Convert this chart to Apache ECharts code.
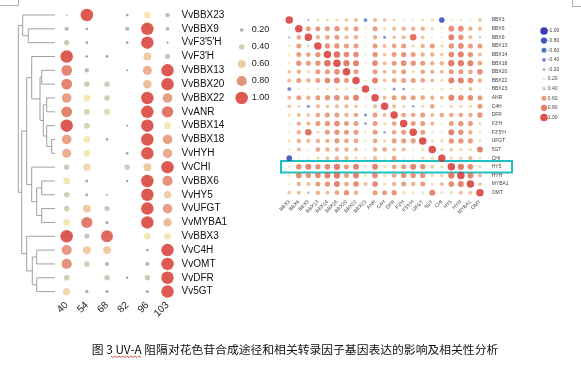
<!DOCTYPE html>
<html><head><meta charset="utf-8">
<script src="https://cdn.jsdelivr.net/npm/echarts@6/dist/echarts.min.js"></script>
<style>html,body{margin:0;padding:0;background:#fff}#c{width:581px;height:369px}</style>
</head><body><div id="c"></div>
<script>
// ---------- Left panel: expression dot plot ----------
const genes = ['VvBBX23','VvBBX9',"VvF3'5'H","VvF3'H",'VvBBX13','VvBBX20','VvBBX22','VvANR','VvBBX14','VvBBX18','VvHYH','VvCHI','VvBBX6','VvHY5','VvUFGT','VvMYBA1','VvBBX3','VvC4H','VvOMT','VvDFR','Vv5GT'];
const stages = ['40','54','68','82','96','103'];
const expr40  = [0.05,0.28,0.38,1.00,0.85,0.85,0.75,0.85,1.00,0.75,0.70,0.38,0.50,0.40,0.40,0.50,1.00,0.78,0.80,0.40,0.55];
const expr54  = [1.00,0.15,0.15,0.15,0.30,0.38,0.50,0.42,0.42,0.50,0.50,0.55,0.18,0.18,0.60,0.88,0.35,0.60,0.40,0,0.20];
const expr68  = [0,0,0,0.17,0,0.38,0.40,0.45,0,0.15,0,0,0,0.06,0.38,0.18,0.95,0.60,0.30,0.38,0.20];
const expr82  = [0.15,0.28,0.15,0,0.08,0,0,0,0.08,0,0.15,0.38,0.12,0,0,0,0,0,0,0.12,0];
const expr96  = [0.50,1.00,1.00,0.60,0.70,0.65,1.00,1.00,1.00,1.00,1.00,0.60,1.00,1.00,1.00,1.00,0.50,0.15,0.28,0.38,0.18];
const expr103 = [0.30,0.22,0.10,0.38,1.00,1.00,0.75,0.90,0.50,0.75,0.72,1.00,0.80,0.58,0.75,0.65,0.50,1.00,1.00,1.00,1.00];
const exprCols = [expr40, expr54, expr68, expr82, expr96, expr103];
const exprLegendValues = [0.2,0.4,0.6,0.8,1.0];
const exprLegendLabels = ['0.20','0.40','0.60','0.80','1.00'];

// dendrogram merges: [node id, child A, child B, merge height]
const dendroMerges = [
  ['n1','VvBBX9',"VvF3'5'H",2.67],
  ['n2','VvBBX23','n1',3.23],
  ['ca','VvBBX13','VvBBX20',1.33],
  ['cb','VvBBX22','VvANR',0.83],
  ['cc','VvBBX18','VvHYH',0.33],
  ['cd','VvBBX14','cc',0.83],
  ['ce','cb','cd',1.17],
  ['cf','ca','ce',1.50],
  ['cg',"VvF3'H",'cf',2.33],
  ['h3','VvBBX6','VvHY5',1.33],
  ['h4','VvUFGT','VvMYBA1',1.33],
  ['h2','h3','h4',1.83],
  ['h1','VvCHI','h2',2.33],
  ['mid','cg','h1',2.83],
  ['b3','VvC4H','VvOMT',1.83],
  ['b4','VvDFR','Vv5GT',1.83],
  ['b2','b3','b4',2.27],
  ['bot','VvBBX3','b2',2.83],
  ['m','mid','bot',3.33],
  ['root','n2','m',3.67]
];

// ---------- Right panel: correlation matrix ----------
const corrGenes = ['BBX3','BBX6','BBX9','BBX13','BBX14','BBX18','BBX20','BBX22','BBX23','ANR','C4H','DFR',"F3'H","F3'5'H",'UFGT','5GT','CHI','HY5','HYH','MYBA1','OMT'];
const corrMatrix = [
  [1.00,0.05,-0.15,0.25,0.30,0.30,0.40,0.45,-0.40,0.45,0.40,0.30,0.10,0.10,0.25,0.30,-0.70,0.10,0.20,0.10,0.40],
  [0.05,1.00,0.60,0.60,0.60,0.65,0.50,0.60,0.15,0.60,0.30,0.45,0.50,0.50,0.50,0.30,0.10,0.70,0.70,0.50,0.45],
  [-0.15,0.55,1.00,0.50,0.55,0.60,0.45,0.50,0.10,0.50,-0.30,0.40,0.45,0.85,0.40,0.10,0.10,0.75,0.65,0.45,-0.15],
  [0.20,0.60,0.30,1.00,0.65,0.65,0.60,0.60,0.10,0.60,0.45,0.55,0.60,0.30,0.50,0.60,0.30,0.65,0.70,0.60,0.60],
  [0.20,0.60,0.55,0.65,1.00,0.85,0.70,0.70,0.10,0.65,0.40,0.60,0.65,0.60,0.50,0.50,0.40,0.70,0.75,0.65,0.45],
  [0.20,0.65,0.60,0.65,0.85,1.00,0.80,0.75,0.10,0.70,0.45,0.60,0.70,0.65,0.60,0.50,0.50,0.80,0.80,0.75,0.55],
  [0.40,0.50,0.30,0.60,0.60,0.70,1.00,0.60,0.05,0.60,0.45,0.50,0.60,0.30,0.55,0.50,0.45,0.60,0.60,0.55,0.70],
  [0.45,0.60,0.50,0.60,0.70,0.75,0.60,1.00,0.20,0.75,0.40,0.55,0.60,0.60,0.55,0.45,0.30,0.75,0.75,0.70,0.50],
  [-0.40,0.10,0.10,0.20,0.25,0.30,0.20,0.20,1.00,0.10,0.15,-0.30,-0.25,0.20,0.20,0.10,0.25,0.25,0.25,0.45,0.05],
  [0.45,0.60,0.50,0.60,0.65,0.70,0.60,0.75,0.10,1.00,0.45,0.60,0.60,0.60,0.55,0.50,0.45,0.75,0.70,0.70,0.60],
  [0.40,0.30,-0.30,0.45,0.40,0.45,0.45,0.40,0.15,0.45,1.00,0.45,0.30,-0.20,0.30,0.55,0.15,0.30,0.30,0.30,0.60],
  [0.30,0.45,0.40,0.55,0.60,0.60,0.50,0.55,-0.30,0.60,0.45,1.00,0.55,0.55,0.60,0.45,0.55,0.55,0.55,0.50,0.65],
  [0.10,0.50,0.45,0.60,0.65,0.70,0.60,0.60,-0.25,0.60,0.30,0.55,1.00,0.60,0.60,0.45,0.10,0.60,0.65,0.60,0.30],
  [0.10,0.50,0.85,0.30,0.60,0.65,0.60,0.60,0.20,0.60,-0.20,0.55,0.60,1.00,0.60,0.20,0.10,0.75,0.65,0.50,0.20],
  [0.25,0.50,0.45,0.50,0.50,0.60,0.55,0.55,0.20,0.55,0.30,0.60,0.60,0.60,1.00,0.30,0.30,0.65,0.65,0.60,0.25],
  [0.15,0.45,0.10,0.55,0.50,0.50,0.50,0.45,0.10,0.50,0.55,0.45,0.45,0.20,0.30,1.00,0.30,0.40,0.30,0.30,0.75],
  [-0.70,0.10,0.10,0.30,0.40,0.50,0.45,0.30,0.25,0.45,0.15,0.55,0.10,0.10,0.30,0.30,1.00,0.30,0.35,0.45,0.25],
  [0.10,0.70,0.75,0.65,0.70,0.80,0.60,0.75,0.25,0.75,0.30,0.55,0.60,0.75,0.65,0.40,0.30,1.00,0.80,0.70,0.30],
  [0.20,0.70,0.65,0.70,0.75,0.80,0.60,0.75,0.25,0.70,0.30,0.55,0.65,0.65,0.65,0.30,0.35,0.80,1.00,0.75,0.45],
  [0.10,0.50,0.45,0.60,0.65,0.75,0.55,0.70,0.45,0.70,0.30,0.50,0.60,0.50,0.60,0.30,0.45,0.70,0.75,1.00,0.40],
  [0.40,0.45,-0.15,0.50,0.45,0.55,0.65,0.50,0.05,0.60,0.60,0.65,0.30,0.20,0.25,0.75,0.25,0.30,0.45,0.40,1.00]
];
const corrLegendValues = [-1,-0.8,-0.6,-0.4,-0.2,0.2,0.4,0.6,0.8,1];
const corrLegendLabels = ['-1.00','-0.80','-0.60','-0.40','-0.20','0.20','0.40','0.60','0.80','1.00'];
const captionText = '图 3 UV-A 阻隔对花色苷合成途径和相关转录因子基因表达的影响及相关性分析';

// ---------- build series data ----------
const leftColors = ['#4f74b5','#6d89bb','#8798b8','#a6aeae','#c2c5a4','#eee2a0','#ebbe8c','#e69c74','#df785b','#da5441','#d62f27'];
const rightColors = ['#0a0aa8','#1630b0','#2b4fb8','#4b6dc0','#7d91c4','#d9d9cf','#f2e5a2','#efb884','#e6845f','#dd5b41','#d42a25'];

const exprData = [];
exprCols.forEach((col, ci) => col.forEach((v, ri) => { if (v > 0) exprData.push([ci, ri, v]); }));
const exprLegendData = exprLegendValues.map((v, i) => [0.5, i, v]);
const corrData = [];
corrMatrix.forEach((row, ri) => row.forEach((v, ci) => corrData.push([ci, ri, v])));
const corrLegendData = corrLegendValues.map((v, i) => [0.5, i, v]);

// dendrogram layout: node y = mean of children, leaves at their row index
const nodePos = {};
genes.forEach((g, i) => { nodePos[g] = { y: i, h: 0 }; });
const dendroData = dendroMerges.map(([id, a, b, h]) => {
  const A = nodePos[a], B = nodePos[b];
  nodePos[id] = { y: (A.y + B.y) / 2, h: h };
  return [h, A.y, B.y, A.h, B.h];
});

const chart = echarts.init(document.getElementById('c'), null, { renderer: 'canvas' });
const FONT = 'Liberation Sans';
const hideAxis = { show: false };
chart.setOption({
  animation: false,
  backgroundColor: '#ffffff',
  textStyle: { fontFamily: FONT },
  grid: [
    { left: 0, top: 8.1, width: 55, height: 290.4 },
    { left: 56.6, top: 8.1, width: 121, height: 290.4 },
    { left: 236.3, top: 21.5, width: 10.8, height: 85 },
    { left: 284.5, top: 15.7, width: 200.2, height: 181.3 },
    { left: 541, top: 26.2, width: 6, height: 96 }
  ],
  xAxis: [
    { gridIndex: 0, type: 'value', min: 0, max: 5.5, inverse: true, show: false },
    { gridIndex: 1, type: 'category', data: stages, axisLine: hideAxis, axisTick: hideAxis, splitLine: hideAxis,
      axisLabel: { rotate: 45, fontSize: 10, color: '#222', margin: 5, interval: 0, fontFamily: FONT } },
    { gridIndex: 2, type: 'value', min: 0, max: 1, show: false },
    { gridIndex: 3, type: 'category', data: corrGenes, axisLine: hideAxis, axisTick: hideAxis, splitLine: hideAxis,
      axisLabel: { rotate: 45, fontSize: 5, color: '#444', margin: 4, interval: 0, fontFamily: FONT } },
    { gridIndex: 4, type: 'value', min: 0, max: 1, show: false }
  ],
  yAxis: [
    { gridIndex: 0, type: 'value', min: -0.5, max: 20.5, inverse: true, show: false },
    { gridIndex: 1, type: 'category', data: genes, inverse: true, position: 'right', axisLine: hideAxis, axisTick: hideAxis, splitLine: hideAxis,
      axisLabel: { fontSize: 10, color: '#111', margin: 4, interval: 0, fontFamily: FONT } },
    { gridIndex: 2, type: 'category', data: exprLegendLabels, inverse: true, position: 'right', axisLine: hideAxis, axisTick: hideAxis,
      axisLabel: { fontSize: 9, color: '#222', margin: 4.6, interval: 0, fontFamily: FONT } },
    { gridIndex: 3, type: 'category', data: corrGenes, inverse: true, position: 'right', axisLine: hideAxis, axisTick: hideAxis, splitLine: hideAxis,
      axisLabel: { fontSize: 5, color: '#444', margin: 7, interval: 0, fontFamily: FONT } },
    { gridIndex: 4, type: 'category', data: corrLegendLabels, inverse: true, position: 'right', axisLine: hideAxis, axisTick: hideAxis,
      axisLabel: { fontSize: 5, color: '#444', margin: 0.8, interval: 0, fontFamily: FONT } }
  ],
  visualMap: [
    { type: 'continuous', show: false, seriesIndex: [1, 2], dimension: 2, min: 0, max: 1, inRange: { color: leftColors } },
    { type: 'continuous', show: false, seriesIndex: [3, 4], dimension: 2, min: -1, max: 1, inRange: { color: rightColors } }
  ],
  series: [
    { type: 'custom', xAxisIndex: 0, yAxisIndex: 0, data: dendroData, silent: true, clip: false,
      encode: { x: [0, 3, 4], y: [1, 2] },
      renderItem: (params, api) => {
        const h = api.value(0), ya = api.value(1), yb = api.value(2), ha = api.value(3), hb = api.value(4);
        return { type: 'polyline',
          shape: { points: [api.coord([ha, ya]), api.coord([h, ya]), api.coord([h, yb]), api.coord([hb, yb])] },
          style: { stroke: '#a0a0a0', lineWidth: 1, fill: null } };
      } },
    { type: 'scatter', xAxisIndex: 1, yAxisIndex: 1, data: exprData, silent: true,
      symbolSize: d => 1 + 11.5 * d[2] },
    { type: 'scatter', xAxisIndex: 2, yAxisIndex: 2, data: exprLegendData, silent: true,
      symbolSize: d => 1 + 11.5 * d[2] },
    { type: 'scatter', xAxisIndex: 3, yAxisIndex: 3, data: corrData, silent: true,
      symbolSize: d => 1.3 + 6.2 * Math.abs(d[2]) },
    { type: 'scatter', xAxisIndex: 4, yAxisIndex: 4, data: corrLegendData, silent: true,
      symbolSize: d => 1.3 + 6.2 * Math.abs(d[2]) }
  ],
  graphic: [
    { type: 'polyline', shape: { points: [[0, 5.5], [18.5, 5.5], [18.5, 0]] }, style: { stroke: '#b0b0b0', lineWidth: 1, fill: null } },
    { type: 'polyline', shape: { points: [[572.5, 0], [572.5, 6.5], [581, 6.5]] }, style: { stroke: '#b0b0b0', lineWidth: 1, fill: null } },
    { type: 'rect', shape: { x: 281, y: 161, width: 231, height: 11.5 }, style: { stroke: '#1fbfc6', lineWidth: 2, fill: null } },
    { type: 'text', x: 295, y: 350, style: { text: captionText, fontSize: 11.8, fontFamily: 'Noto Sans CJK SC', fill: '#111', align: 'center', verticalAlign: 'middle' } },
    { type: 'polyline', shape: { points: [[111,356],[113,357.5],[115,356],[117,357.5],[119,356],[121,357.5],[123,356],[125,357.5],[127,356],[129,357.5],[131,356],[133,357.5],[135,356],[137,357.5],[139,356],[141,357.5]] },
      style: { stroke: '#d03030', lineWidth: 0.8, fill: null } }
  ]
});
</script></body></html>
